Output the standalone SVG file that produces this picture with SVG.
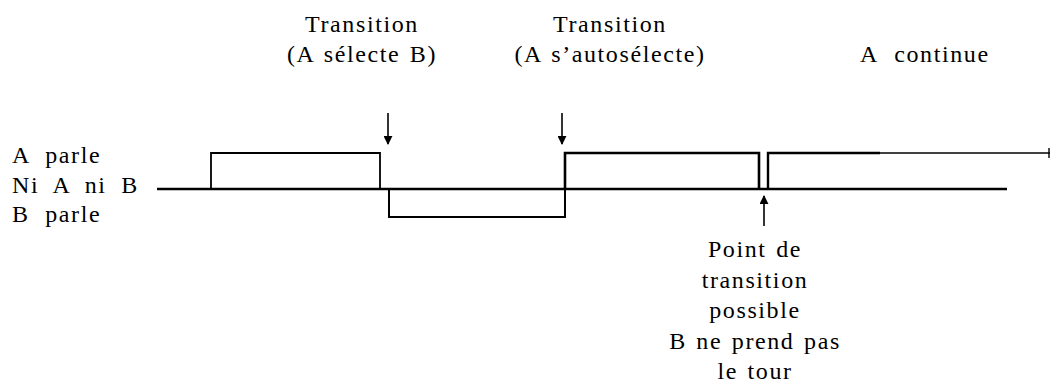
<svg xmlns="http://www.w3.org/2000/svg" width="1051" height="385" viewBox="0 0 1051 385">
<style>
text{font-size:24px;fill:#000;letter-spacing:1.6px;word-spacing:2px}
.c{text-anchor:middle}
.sig{fill:none;stroke:#000;stroke-linejoin:miter}
.arr{stroke:#000;stroke-width:1.6;fill:none}
</style>
<defs>
<marker id="ah" viewBox="0 0 10 10" refX="9" refY="5" markerWidth="9" markerHeight="9" markerUnits="userSpaceOnUse" orient="auto">
<path d="M0,0 L10,5 L0,10 z" fill="#000"/>
</marker>
</defs>
<rect width="1051" height="385" fill="#fff"/>
<g font-family="Liberation Serif, DejaVu Serif, serif">
<g id="labels-left">
<text x="12" y="163" style="word-spacing:8px">A parle</text>
<text x="12" y="193" style="word-spacing:7px">Ni A ni B</text>
<text x="12" y="222" style="word-spacing:8px">B parle</text>
</g>
<g id="t1">
<text class="c" x="362" y="32">Transition</text>
<text class="c" x="362" y="62">(A sélecte B)</text>
</g>
<g id="t2">
<text class="c" x="610" y="32">Transition</text>
<text class="c" x="610" y="62">(A s’autosélecte)</text>
</g>
<g id="t3">
<text x="860" y="62" style="word-spacing:9px">A continue</text>
</g>
<g id="t4">
<text class="c" x="755" y="257">Point de</text>
<text class="c" x="755" y="288">transition</text>
<text class="c" x="755" y="318">possible</text>
<text class="c" x="755" y="349">B ne prend pas</text>
<text class="c" x="755" y="379">le tour</text>
</g>
</g>
<g id="signal">
<line class="sig" x1="157" y1="189" x2="1007" y2="189" stroke-width="2.4"/>
<path class="sig" d="M211,189 V153 H380 V189" stroke-width="1.8"/>
<path class="sig" d="M389,189 V217 H565 V189" stroke-width="2"/>
<path class="sig" d="M565,189 V153 H759 V189" stroke-width="2.6"/>
<path class="sig" d="M768,189 V153 H880" stroke-width="2.4"/>
<line class="sig" x1="880" y1="153" x2="1050" y2="153" stroke-width="1.4"/>
<line class="sig" x1="1049" y1="148" x2="1049" y2="158" stroke-width="1.4"/>
</g>
<g id="connectors">
<line class="arr" x1="388" y1="113" x2="388" y2="144" marker-end="url(#ah)"/>
<line class="arr" x1="562" y1="113" x2="562" y2="144" marker-end="url(#ah)"/>
<line class="arr" x1="764" y1="226" x2="764" y2="196" marker-end="url(#ah)"/>
</g>
</svg>
